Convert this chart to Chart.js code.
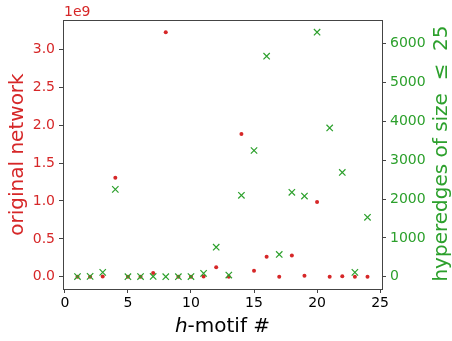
<!DOCTYPE html>
<html>
<head>
<meta charset="utf-8">
<script src="https://cdn.jsdelivr.net/npm/chart.js@4/dist/chart.umd.min.js"></script>
<style>
  html, body { margin: 0; padding: 0; background: #fff; }
  #chart { display: block; }
</style>
</head>
<body>
<canvas id="chart" width="452" height="341"></canvas>
<script>
// --- data ---
const motifs = [1, 2, 3, 4, 5, 6, 7, 8, 9, 10, 11, 12, 13, 14, 15, 16, 17, 18, 19, 20, 21, 22, 23, 24];
// original network counts (left axis, absolute values)
const originalCounts = [
    0.002e9, 0.002e9, 0.005e9, 1.306e9, 0.001e9, 0.001e9, 0.049e9, 3.225e9,
    0.001e9, 0.001e9, 0.003e9, 0.127e9, 0.002e9, 1.884e9, 0.079e9, 0.263e9,
    0.001e9, 0.281e9, 0.013e9, 0.986e9, 0.001e9, 0.008e9, 0.002e9, 0.001e9
];
// hyperedges of size <= 25 (right axis)
const sizeLimitedCounts = [
    5, 10, 113, 2249, 3, 4, 8, 2, 3, 4, 87, 762,
    44, 2095, 3249, 5677, 574, 2172, 2077, 6294, 3831, 2685, 113, 1531
];
const xTicks = [0, 5, 10, 15, 20, 25];
const leftTicks = [0, 0.5e9, 1.0e9, 1.5e9, 2.0e9, 2.5e9, 3.0e9];
const rightTicks = [0, 1000, 2000, 3000, 4000, 5000, 6000];

const RED = '#d62728';
const GREEN = '#2ca02c';
const SPINE = '#444';
const FONT = "'DejaVu Sans', sans-serif";

Chart.defaults.font.family = FONT;

// titles, offset label and the top spine drawn by hand
const decorations = {
    id: 'decorations',
    afterDraw(chart) {
        const ctx = chart.ctx;
        const area = chart.chartArea;
        ctx.save();

        // top spine
        ctx.strokeStyle = SPINE;
        ctx.lineWidth = 1;
        ctx.beginPath();
        ctx.moveTo(area.left, area.top + 0.5);
        ctx.lineTo(area.right, area.top + 0.5);
        ctx.stroke();

        // offset text for the left axis
        ctx.fillStyle = RED;
        ctx.font = '14px ' + FONT;
        ctx.textAlign = 'left';
        ctx.textBaseline = 'alphabetic';
        ctx.fillText('1e9', 64, 16);

        // left title
        ctx.save();
        ctx.translate(23, 154.5);
        ctx.rotate(-Math.PI / 2);
        ctx.font = '20px ' + FONT;
        ctx.textAlign = 'center';
        ctx.fillStyle = RED;
        ctx.fillText('original network', 0, 0);
        ctx.restore();

        // right title
        ctx.save();
        ctx.translate(447, 153.5);
        ctx.rotate(-Math.PI / 2);
        ctx.font = '20px ' + FONT;
        ctx.textAlign = 'center';
        ctx.fillStyle = GREEN;
        ctx.fillText('hyperedges of size  \u2264  25', 0, 0);
        ctx.restore();

        // x title with italic h
        ctx.fillStyle = '#000';
        ctx.textAlign = 'left';
        ctx.font = 'italic 20px ' + FONT;
        const wH = ctx.measureText('h').width;
        ctx.font = '20px ' + FONT;
        const wRest = ctx.measureText('-motif #').width;
        const cx = (area.left + area.right) / 2;
        const x0 = cx - (wH + wRest) / 2;
        ctx.font = 'italic 20px ' + FONT;
        ctx.fillText('h', x0, 331.5);
        ctx.font = '20px ' + FONT;
        ctx.fillText('-motif #', x0 + wH, 331.5);

        ctx.restore();
    }
};

const tickGrid = {
    drawOnChartArea: false,
    drawTicks: true,
    tickLength: 4,
    color: SPINE,
    lineWidth: 1
};

new Chart(document.getElementById('chart'), {
    type: 'scatter',
    data: {
        datasets: [
            {
                label: 'hyperedges of size <= 25',
                data: motifs.map((m, i) => ({ x: m, y: sizeLimitedCounts[i] })),
                yAxisID: 'y2',
                pointStyle: 'crossRot',
                pointRadius: 4.5,
                borderColor: GREEN,
                backgroundColor: GREEN,
                borderWidth: 1.2,
                order: 0
            },
            {
                label: 'original network',
                data: motifs.map((m, i) => ({ x: m, y: originalCounts[i] })),
                yAxisID: 'y',
                pointStyle: 'circle',
                pointRadius: 2,
                borderWidth: 0,
                backgroundColor: RED,
                borderColor: RED,
                order: 1
            }
        ]
    },
    options: {
        responsive: false,
        animation: false,
        layout: { padding: { top: 20, left: 0, right: 0, bottom: 0 } },
        plugins: {
            legend: { display: false },
            tooltip: { enabled: false }
        },
        scales: {
            x: {
                type: 'linear',
                min: -0.15,
                max: 25.15,
                afterBuildTicks: s => { s.ticks = xTicks.map(v => ({ value: v })); },
                afterFit: s => { s.height = 52; },
                grid: tickGrid,
                border: { color: SPINE, width: 1 },
                ticks: { color: '#000', font: { size: 14 }, padding: 2, maxRotation: 0 }
            },
            y: {
                type: 'linear',
                position: 'left',
                min: -0.161e9,
                max: 3.386e9,
                afterBuildTicks: s => { s.ticks = leftTicks.map(v => ({ value: v })); },
                afterFit: s => { s.width = 63; },
                grid: tickGrid,
                border: { color: SPINE, width: 1 },
                ticks: {
                    color: RED,
                    font: { size: 14 },
                    padding: 4,
                    callback: v => (v / 1e9).toFixed(1)
                }
            },
            y2: {
                type: 'linear',
                position: 'right',
                min: -315,
                max: 6608,
                afterBuildTicks: s => { s.ticks = rightTicks.map(v => ({ value: v })); },
                afterFit: s => { s.width = 70; },
                grid: tickGrid,
                border: { color: SPINE, width: 1 },
                ticks: {
                    color: GREEN,
                    font: { size: 14 },
                    padding: 4,
                    callback: v => String(v)
                }
            }
        }
    },
    plugins: [decorations]
});
</script>
</body>
</html>
